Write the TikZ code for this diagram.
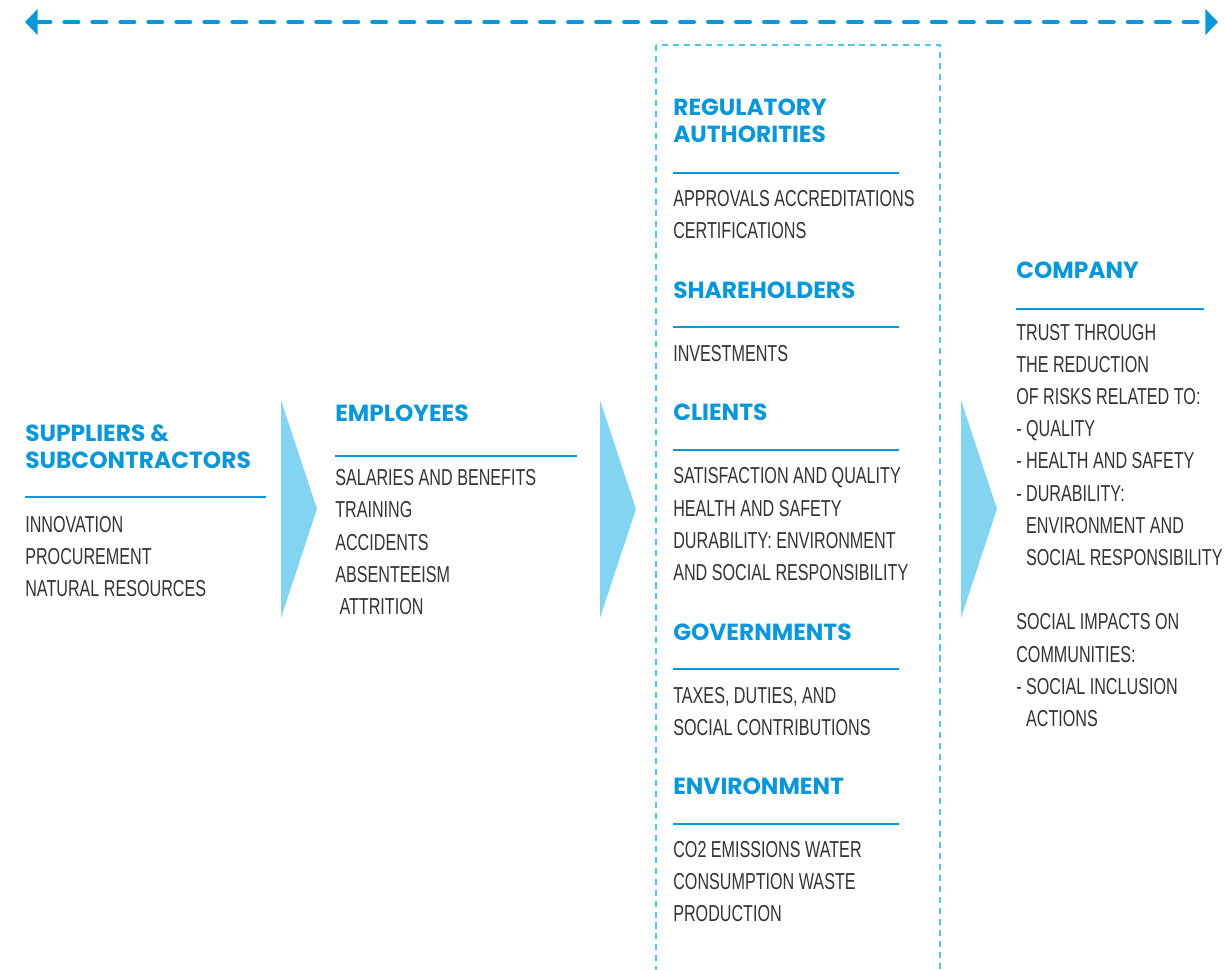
\documentclass[tikz,border=0pt]{standalone}
\usepackage{fontspec}
\usepackage{xcolor}
\usepackage{tikz}
\usetikzlibrary{positioning,arrows.meta}
\setmainfont{Liberation Sans}[FakeStretch=0.7]
\newfontfamily\headfont{Poppins}

\definecolor{headblue}{HTML}{0A97D9}
\definecolor{chevblue}{HTML}{82D4F1}
\definecolor{boxblue}{HTML}{4CC6EC}
\definecolor{textgray}{HTML}{333333}

\begin{document}
\begin{tikzpicture}[x=0.025cm, y=-0.025cm,
    head/.style={anchor=base west, align=left, inner sep=0pt, text=headblue, font=\headfont\bfseries\fontsize{16.6}{19.2}\selectfont},
    items/.style={anchor=base west, align=left, inner sep=0pt, text=textgray, font=\fontsize{16.4}{22.76}\selectfont},
    rule/.style={draw=headblue, line width=1.8pt},
    chevron/.style={fill=chevblue},
    flow/.style={draw=headblue, line width=3.5pt, line cap=round, dash pattern=on 9.3pt off 10.6pt, {Triangle[length=9pt, width=18pt]}-{Triangle[length=9pt, width=18pt]}}]
    \useasboundingbox (0,0) rectangle (1224,969);

    % Value chain arrow
    \coordinate (chainl) at (25,22);
    \coordinate (chainr) at (1218,22);
    \draw[flow] (chainl) -- (chainr);

    % Stakeholder box
    \draw[boxblue, line width=1.4pt, dash pattern=on 4.3pt off 3.5pt] (656,45) rectangle (940,990);

    % Suppliers (nodes sit on the baseline of their last line)
    \node[head] (suppliers) at (25,468) {SUPPLIERS \&\\SUBCONTRACTORS};
    \draw[rule] (25,497) -- ++(241,0);
    \node[items] (supitems) at (25,596) {INNOVATION\\PROCUREMENT\\NATURAL RESOURCES};
    \fill[chevron] (281,400) -- (317,509) -- (281,618) -- cycle;

    % Employees
    \node[head] (employees) at (335,421) {EMPLOYEES};
    \draw[rule] (335,456) -- ++(242,0);
    \node[items] (empitems) at (335,614) {SALARIES AND BENEFITS\\TRAINING\\ACCIDENTS\\ABSENTEEISM\\\hspace*{3pt}ATTRITION};
    \fill[chevron] (600,400) -- (636,509) -- (600,618) -- cycle;

    % Regulatory authorities
    \node[head] (regulators) at (673,142) {REGULATORY\\AUTHORITIES};
    \draw[rule] (673,173) -- ++(226,0);
    \node[items] (regitems) at (673,238) {APPROVALS ACCREDITATIONS\\CERTIFICATIONS};

    % Shareholders
    \node[head] (shareholders) at (673,298) {SHAREHOLDERS};
    \draw[rule] (673,327) -- ++(226,0);
    \node[items] (shareitems) at (673,361) {INVESTMENTS};

    % Clients
    \node[head] (clients) at (673,420) {CLIENTS};
    \draw[rule] (673,450) -- ++(226,0);
    \node[items] (clientitems) at (673,580) {SATISFACTION AND QUALITY\\HEALTH AND SAFETY\\DURABILITY: ENVIRONMENT\\AND SOCIAL RESPONSIBILITY};

    % Governments
    \node[head] (governments) at (673,640) {GOVERNMENTS};
    \draw[rule] (673,669) -- ++(226,0);
    \node[items] (govitems) at (673,735) {TAXES, DUTIES, AND\\SOCIAL CONTRIBUTIONS};

    % Environment
    \node[head] (environment) at (673,794) {ENVIRONMENT};
    \draw[rule] (673,824) -- ++(226,0);
    \node[items] (envitems) at (673,921) {CO2 EMISSIONS WATER\\CONSUMPTION WASTE\\PRODUCTION};
    \fill[chevron] (961,400) -- (997,509) -- (961,618) -- cycle;

    % Company
    \node[head] (company) at (1016,278) {COMPANY};
    \draw[rule] (1016,309) -- ++(188,0);
    \node[items] (compitems) at (1016,565) {TRUST THROUGH\\THE REDUCTION\\OF RISKS RELATED TO:\\- QUALITY\\- HEALTH AND SAFETY\\- DURABILITY:\\\hspace*{7pt}ENVIRONMENT AND\\\hspace*{7pt}SOCIAL RESPONSIBILITY};
    \node[items] (compimpacts) at (1016,726) {SOCIAL IMPACTS ON\\COMMUNITIES:\\- SOCIAL INCLUSION\\\hspace*{7pt}ACTIONS};
\end{tikzpicture}
\end{document}
